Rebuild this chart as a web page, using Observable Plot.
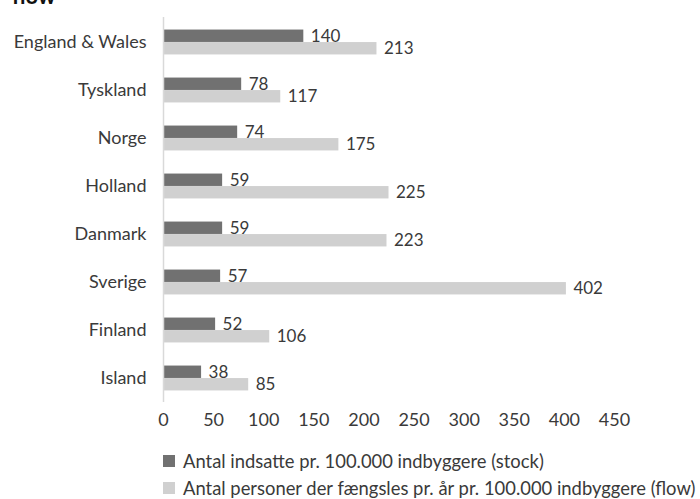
<!DOCTYPE html>
<html><head><meta charset="utf-8">
<script src="https://cdn.jsdelivr.net/npm/d3@7"></script>
<script src="https://cdn.jsdelivr.net/npm/@observablehq/plot@0.6"></script>
<style>
body{margin:0;background:#fff;font-family:Lato,"Open Sans",sans-serif;color:#3a3a3a;}
#wrap{position:relative;width:700px;height:499px;overflow:hidden;}
#title{position:absolute;left:12px;top:-18px;font:bold 22px Lato,sans-serif;color:#111;}
.leg{position:absolute;left:163px;font-size:18.4px;line-height:20px;display:flex;align-items:center;white-space:nowrap;}
.sw{width:12px;height:12px;margin-right:8px;display:inline-block;}
</style></head><body>
<div id="wrap"><div id="title">flow</div><div id="chart"></div>
<div class="leg" style="top:451px"><span class="sw" style="background:#717171"></span>Antal indsatte pr. 100.000 indbyggere (stock)</div>
<div class="leg" style="top:478px"><span class="sw" style="background:#d0d0d0"></span>Antal personer der fængsles pr. år pr. 100.000 indbyggere (flow)</div>
</div>
<script>
const countries = ["England & Wales","Tyskland","Norge","Holland","Danmark","Sverige","Finland","Island"];
const stock = [140,78,74,59,59,57,52,38];
const flow = [213,117,175,225,223,402,106,85];
const xTicks = [0,50,100,150,200,250,300,350,400,450];

const stockData = countries.map((c,i)=>({country:c, value:stock[i]}));
const flowData = countries.map((c,i)=>({country:c, value:flow[i]}));

const half = 6.25, inset = (48.1 - 2*half)/2;
const chart = Plot.plot({
  width:700, height:440,
  marginLeft:163, marginRight:86, marginTop:17, marginBottom:38,
  style:{fontFamily:"Lato, sans-serif", fontSize:"18px", color:"#3a3a3a", background:"transparent"},
  x:{domain:[0,450], ticks:xTicks, tickSize:0, tickPadding:11, label:null},
  y:{domain:countries, padding:0, tickSize:0, tickPadding:17, label:null},
  marks:[
    Plot.barX(stockData,{x:"value", y:"country", fill:"#717171", insetTop:inset, insetBottom:inset, dy:-half}),
    Plot.barX(flowData,{x:"value", y:"country", fill:"#d0d0d0", insetTop:inset, insetBottom:inset, dy:half}),
    Plot.text(stockData,{x:"value", y:"country", text:"value", dy:-half, dx:7, textAnchor:"start", fill:"#3a3a3a", fontSize:17}),
    Plot.text(flowData,{x:"value", y:"country", text:"value", dy:half, dx:7, textAnchor:"start", fill:"#3a3a3a", fontSize:17}),
    Plot.ruleX([0],{stroke:"#d9d9d9", strokeWidth:1.5})
  ]
});
document.getElementById("chart").append(chart);
</script></body></html>
